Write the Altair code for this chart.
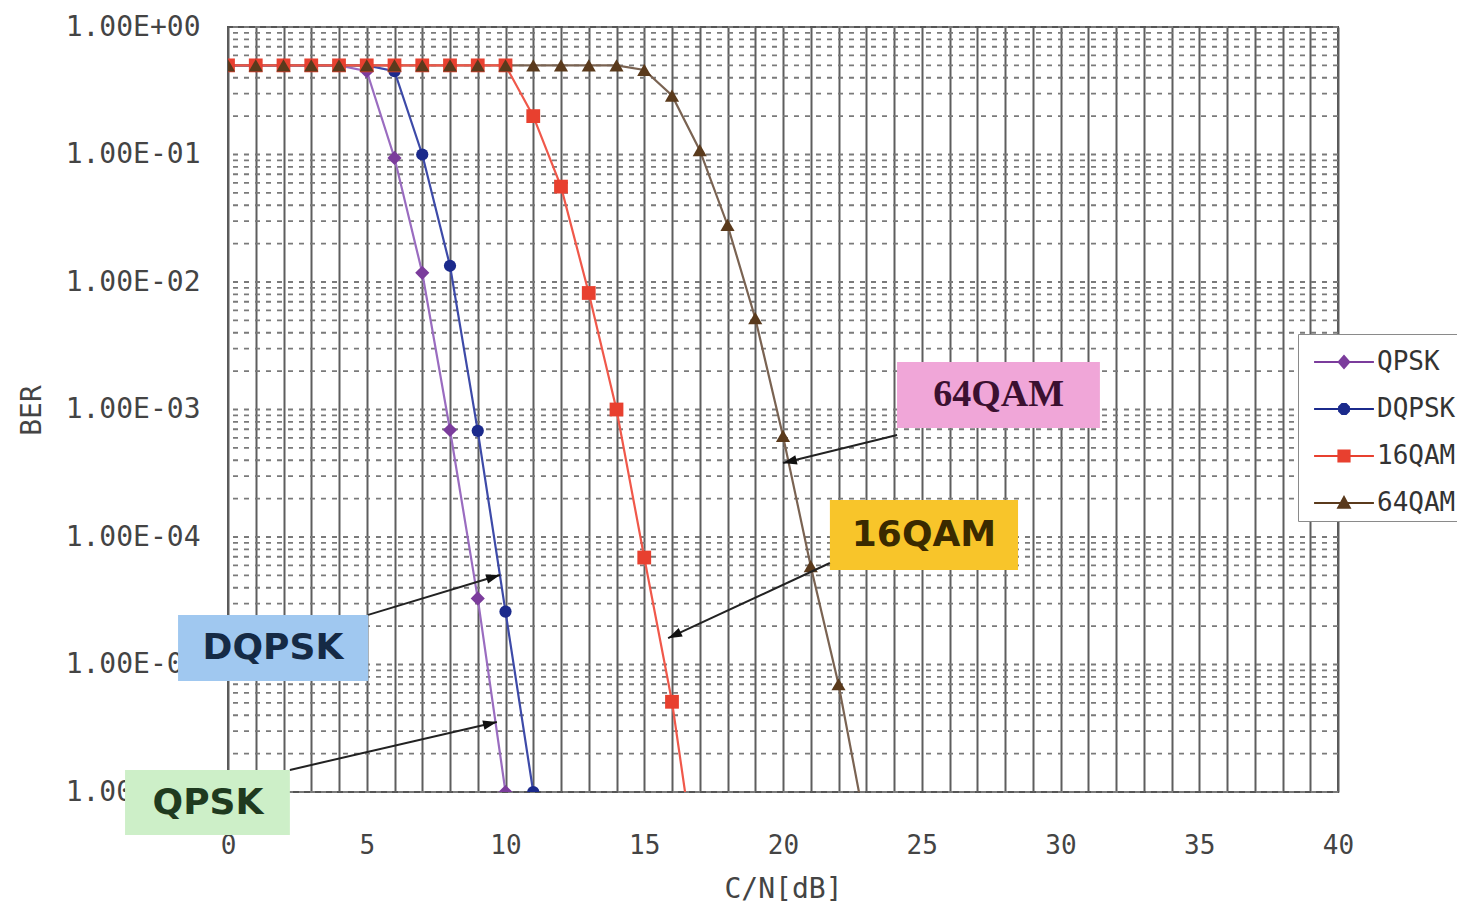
import math
import altair as alt
import pandas as pd

# ---------------- data ----------------
series_names = ["QPSK", "DQPSK", "16QAM", "64QAM"]

cn_qpsk = [0, 1, 2, 3, 4, 5, 6, 7, 8, 9, 10]
ber_qpsk = [0.5, 0.5, 0.5, 0.5, 0.5, 0.45, 0.094, 0.0118, 6.9e-4, 3.3e-5, 1.0e-6]

cn_dqpsk = [0, 1, 2, 3, 4, 5, 6, 7, 8, 9, 10, 11]
ber_dqpsk = [0.5, 0.5, 0.5, 0.5, 0.5, 0.5, 0.45, 0.10, 0.0134, 6.8e-4, 2.6e-5, 1.0e-6]

cn_16qam = [0, 1, 2, 3, 4, 5, 6, 7, 8, 9, 10, 11, 12, 13, 14, 15, 16, 17]
ber_16qam = [0.5, 0.5, 0.5, 0.5, 0.5, 0.5, 0.5, 0.5, 0.5, 0.5, 0.5,
             0.2, 0.056, 0.0082, 1.0e-3, 6.9e-5, 5.1e-6, 1.6e-7]

cn_64qam = [0, 1, 2, 3, 4, 5, 6, 7, 8, 9, 10, 11, 12, 13, 14, 15, 16, 17, 18, 19, 20, 21, 22, 23]
ber_64qam = [0.5, 0.5, 0.5, 0.5, 0.5, 0.5, 0.5, 0.5, 0.5, 0.5, 0.5, 0.5, 0.5, 0.5, 0.5,
             0.46, 0.29, 0.108, 0.028, 0.0052, 6.2e-4, 5.9e-5, 7.0e-6, 5.0e-7]

x_grid_values = list(range(0, 41))
x_tick_values = [0, 5, 10, 15, 20, 25, 30, 35, 40]
x_tick_labels = ["0", "5", "10", "15", "20", "25", "30", "35", "40"]

y_tick_values = [1.0, 0.1, 0.01, 0.001, 0.0001, 0.00001, 0.000001]
y_tick_labels = ["1.00E+00", "1.00E-01", "1.00E-02", "1.00E-03", "1.00E-04", "1.00E-05", "1.00E-06"]
y_grid_mantissas = [1, 2, 3, 4, 5, 6, 7, 8, 9]
y_grid_exponents = [-6, -5, -4, -3, -2, -1]

# annotations (data coordinates)
ann_labels = ["64QAM", "16QAM", "DQPSK", "QPSK"]
ann_box_x1 = [24.11, 21.69, -1.80, -3.71]
ann_box_x2 = [31.42, 28.47, 5.05, 2.23]
ann_box_y1 = [2.36e-3, 1.95e-4, 2.45e-5, 1.49e-6]
ann_box_y2 = [7.16e-4, 5.51e-5, 7.43e-6, 4.6e-7]
ann_text_x = [27.77, 25.08, 1.62, -0.72]
ann_text_y = [1.30e-3, 1.04e-4, 1.35e-5, 8.2e-7]
arrow_from_x = [24.11, 21.69, 5.05, 2.23]
arrow_from_y = [6.31e-4, 6.25e-5, 2.45e-5, 1.49e-6]
arrow_to_x = [20.0, 15.86, 9.80, 9.69]
arrow_to_y = [3.80e-4, 1.61e-5, 5.04e-5, 3.54e-6]

# ---------------- styles ----------------
W, H = 1110, 765
X_DOM = [0, 40]
Y_DOM = [1e-6, 1]
line_colors = ["#9a6cc0", "#3d4aa8", "#f0584a", "#7a6352"]
marker_colors = ["#7b3c9c", "#1b2a8c", "#e8402f", "#5a3a1c"]
marker_shapes = ["diamond", "circle", "square", "triangle-up"]
marker_sizes = [200, 150, 190, 200]
line_draw_order = ["QPSK", "DQPSK", "64QAM", "16QAM"]
LINE = "M-1.36,-0.05L1.36,-0.05L1.36,0.05L-1.36,0.05Z "
legend_paths = [
    LINE + "M0,-0.34L0.3,0L0,0.34L-0.3,0Z",
    LINE + "M-0.11,-0.27L0.11,-0.27L0.27,-0.11L0.27,0.11L0.11,0.27L-0.11,0.27L-0.27,0.11L-0.27,-0.11Z",
    LINE + "M-0.3,-0.3L0.3,-0.3L0.3,0.3L-0.3,0.3Z",
    LINE + "M0,-0.36L0.34,0.26L-0.34,0.26Z",
]
box_colors = ["#f0a6d8", "#f8c52a", "#a0c8f0", "#cdefc8"]
text_colors = ["#3b1030", "#3a2a00", "#152a45", "#1f3a1f"]
text_fonts = ["Liberation Serif", "DejaVu Sans", "DejaVu Sans", "DejaVu Sans"]
text_sizes = [38, 36, 36, 36]
GOTHIC = "DejaVu Sans Mono"
LABEL_COLOR = "#444444"

# ---------------- tables ----------------
rows = []
for name, xs, ys in zip(series_names,
                        [cn_qpsk, cn_dqpsk, cn_16qam, cn_64qam],
                        [ber_qpsk, ber_dqpsk, ber_16qam, ber_64qam]):
    for a, b in zip(xs, ys):
        rows.append({"series": name, "cn": a, "ber": b})
df = pd.DataFrame(rows)
legend_df = pd.DataFrame({"series": series_names})

grid_df = pd.DataFrame({"g": [m * 10.0 ** e for e in y_grid_exponents for m in y_grid_mantissas] + [1.0]})


def lit(v):
    return f"{v:.8f}"


y_label_expr = "".join(f"datum.value == {lit(v)} ? '{t}' : " for v, t in zip(y_tick_values, y_tick_labels)) + "''"
x_label_expr = "".join(f"datum.value == {v} ? '{t}' : " for v, t in zip(x_tick_values, x_tick_labels)) + "''"

x_scale = alt.Scale(domain=X_DOM, nice=False, zero=False)
y_scale = alt.Scale(type="log", domain=Y_DOM, nice=False)
x_axis = alt.Axis(values=x_grid_values, labelExpr=x_label_expr, title="C/N[dB]",
                  grid=True, gridColor="#5e5e5e", gridWidth=2, gridOpacity=1,
                  ticks=False, domain=False, labelFont=GOTHIC, labelFontSize=26,
                  labelColor=LABEL_COLOR, labelPadding=40, labelOverlap=False,
                  labelFlush=False, titleFont=GOTHIC, titleFontSize=28,
                  titleFontWeight="normal", titleColor=LABEL_COLOR, titlePadding=17)
y_axis = alt.Axis(values=y_tick_values, labelExpr=y_label_expr, title="BER", grid=False,
                  ticks=False, domain=False, labelFont=GOTHIC, labelFontSize=28,
                  labelColor=LABEL_COLOR, labelPadding=28, labelOverlap=False,
                  labelFlush=False, titleFont=GOTHIC, titleFontSize=28,
                  titleFontWeight="normal", titleColor=LABEL_COLOR,
                  titleX=-196, titleY=383, titleAngle=270, titleAlign="center",
                  titleBaseline="middle")


def X(field):
    return alt.X(field, type="quantitative", scale=x_scale, axis=x_axis)


def Y(field):
    return alt.Y(field, type="quantitative", scale=y_scale, axis=y_axis)


def to_px(x, y):
    return ((x - X_DOM[0]) / (X_DOM[1] - X_DOM[0]) * W,
            (math.log10(Y_DOM[1]) - math.log10(y)) / (math.log10(Y_DOM[1]) - math.log10(Y_DOM[0])) * H)


layers = []

# dashed horizontal (log minor) grid
layers.append(alt.Chart(grid_df).mark_rule(color="#7a7a7a", strokeWidth=1.8, strokeDash=[5, 6])
              .encode(y=Y("g")))

# lines (one layer per series, constant colour -> no scaled colour channel)
for name in line_draw_order:
    col = line_colors[series_names.index(name)]
    layers.append(alt.Chart(df).transform_filter(alt.datum.series == name)
                  .mark_line(strokeWidth=2.2, clip=True, color=col)
                  .encode(x=X("cn"), y=Y("ber"), order="cn:Q"))

# markers
for name, col, shp, sz in zip(series_names, marker_colors, marker_shapes, marker_sizes):
    layers.append(alt.Chart(df).transform_filter(alt.datum.series == name)
                  .mark_point(filled=True, opacity=1, color=col, shape=shp, size=sz, clip=True,
                              strokeWidth=0)
                  .encode(x=X("cn"), y=Y("ber")))

# legend (custom line+marker symbols); its own marks sit outside the clipped view
legend = alt.Legend(orient="none", legendX=1070, legendY=307, title=None,
                    fillColor="white", strokeColor="#8a8a8a", padding=5,
                    symbolSize=1936, symbolOffset=18, labelOffset=10, rowPadding=11,
                    labelFont=GOTHIC, labelFontSize=26,
                    labelColor="#333333", labelLimit=300)
layers.append(alt.Chart(legend_df).transform_calculate(lx="-100", ly="1e-12")
              .mark_point(filled=True, opacity=1, size=1936, clip=True)
              .encode(x=X("lx"), y=Y("ly"),
                      fill=alt.Fill("series:N", scale=alt.Scale(domain=series_names, range=marker_colors),
                                    legend=legend),
                      shape=alt.Shape("series:N", scale=alt.Scale(domain=series_names, range=legend_paths),
                                      legend=legend)))

# annotations
arrow_path = "M0,0L0.55,1.6L-0.55,1.6Z"
for i, lab in enumerate(ann_labels):
    one = pd.DataFrame([{
        "bx1": ann_box_x1[i], "bx2": ann_box_x2[i], "by1": ann_box_y1[i], "by2": ann_box_y2[i],
        "tx": ann_text_x[i], "ty": ann_text_y[i], "label": lab,
        "fx": arrow_from_x[i], "fy": arrow_from_y[i], "hx": arrow_to_x[i], "hy": arrow_to_y[i],
    }])
    fx, fy = to_px(arrow_from_x[i], arrow_from_y[i])
    hx, hy = to_px(arrow_to_x[i], arrow_to_y[i])
    ang = math.degrees(math.atan2(hx - fx, -(hy - fy))) % 360
    base = alt.Chart(one)
    layers.append(base.mark_rect(color=box_colors[i]).encode(
        x=X("bx1"), x2="bx2", y=Y("by1"), y2="by2"))
    layers.append(base.mark_text(font=text_fonts[i], fontSize=text_sizes[i], fontWeight="bold",
                                 color=text_colors[i], align="center", baseline="middle")
                  .encode(x=X("tx"), y=Y("ty"), text="label:N"))
    layers.append(base.mark_rule(color="#222222", strokeWidth=2).encode(
        x=X("fx"), y=Y("fy"), x2="hx", y2="hy"))
    layers.append(base.mark_point(shape=arrow_path, filled=True, opacity=1, color="#111111",
                                  size=300, angle=ang, strokeWidth=0)
                  .encode(x=X("hx"), y=Y("hy")))

chart = alt.layer(*layers).properties(
    width=W, height=H,
    autosize=alt.AutoSizeParams(type="none"),
    padding={"left": 220, "top": 19, "right": 119, "bottom": 113},
    background="white",
).configure_view(stroke="#555555", strokeWidth=2)

chart.save("out.html", embed_options={"renderer": "svg", "actions": False})
